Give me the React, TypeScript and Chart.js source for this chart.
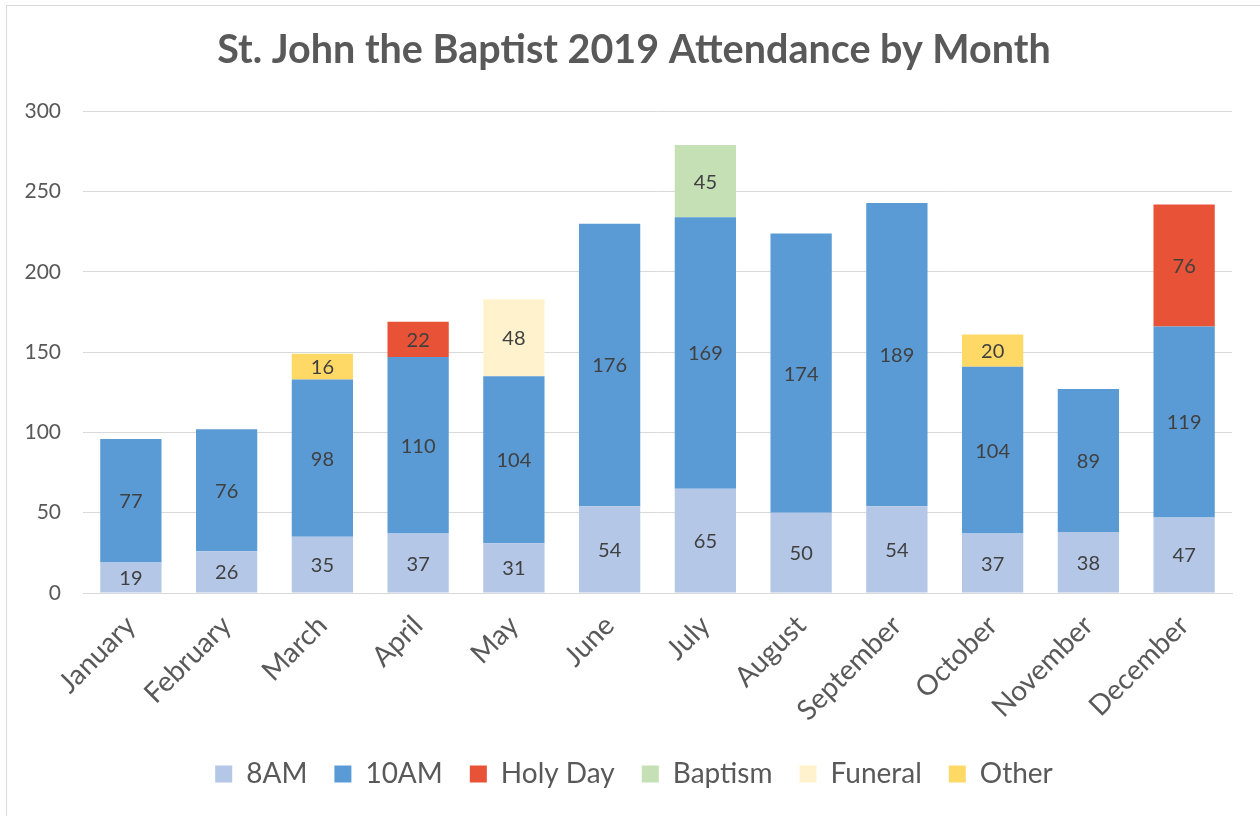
import React, { useEffect, useRef } from "react";
import { Chart, registerables } from "chart.js";

Chart.register(...registerables);

const months = ["January", "February", "March", "April", "May", "June", "July", "August", "September", "October", "November", "December"];
const am8 = [19, 26, 35, 37, 31, 54, 65, 50, 54, 37, 38, 47];
const am10 = [77, 76, 98, 110, 104, 176, 169, 174, 189, 104, 89, 119];
const holyDay = [null, null, null, 22, null, null, null, null, null, null, null, 76];
const baptism = [null, null, null, null, null, null, 45, null, null, null, null, null];
const funeral = [null, null, null, null, 48, null, null, null, null, null, null, null];
const other = [null, null, 16, null, null, null, null, null, null, 20, null, null];
const yTicks = [0, 50, 100, 150, 200, 250, 300];

const FONT = "Lato, 'Open Sans', sans-serif";

const labelPlugin = {
  id: "barLabels",
  afterDatasetsDraw(chart: any) {
    const ctx = chart.ctx;
    ctx.save();
    ctx.font = `20px ${FONT}`;
    ctx.fillStyle = "#404040";
    ctx.textAlign = "center";
    ctx.textBaseline = "middle";
    chart.data.datasets.forEach((ds: any, di: number) => {
      const meta = chart.getDatasetMeta(di);
      meta.data.forEach((el: any, i: number) => {
        const v = ds.data[i];
        if (v === null || v === undefined) return;
        const y = (el.y + el.base) / 2;
        ctx.fillText(String(v), el.x, y + 1);
      });
    });
    ctx.restore();
  },
};

export default function App() {
  const ref = useRef<HTMLCanvasElement | null>(null);
  useEffect(() => {
    if (!ref.current) return;
    const mk = (label: string, data: any[], color: string) => ({
      label,
      data,
      backgroundColor: color,
      borderWidth: 0,
      barPercentage: 0.64,
      categoryPercentage: 1,
    });
    const chart = new Chart(ref.current, {
      type: "bar",
      data: {
        labels: months,
        datasets: [
          mk("8AM", am8, "#B4C7E7"),
          mk("10AM", am10, "#5B9BD5"),
          mk("Holy Day", holyDay, "#E85236"),
          mk("Baptism", baptism, "#C5E0B4"),
          mk("Funeral", funeral, "#FFF2CC"),
          mk("Other", other, "#FFD966"),
        ],
      },
      options: {
        animation: false,
        responsive: false,
        layout: { padding: { left: 8, right: 0, top: 0, bottom: 18 } },
        plugins: {
          tooltip: { enabled: false },
          title: {
            display: true,
            text: "St. John the Baptist 2019 Attendance by Month",
            color: "#595959",
            font: { family: FONT, size: 39.5, weight: "bold" },
            padding: { top: 27, bottom: 37 },
          },
          legend: {
            position: "bottom",
            labels: {
              color: "#595959",
              font: { family: FONT, size: 28 },
              boxWidth: 17,
              boxHeight: 17,
              padding: 27,
            },
          },
        },
        scales: {
          x: {
            stacked: true,
            grid: { display: false },
            border: { color: "#D9D9D9", width: 1 },
            ticks: {
              color: "#595959",
              font: { family: FONT, size: 28 },
              minRotation: 45,
              maxRotation: 45,
              padding: 8,
            },
            afterFit: (s: any) => {
              s.height = 140;
            },
          },
          y: {
            stacked: true,
            min: 0,
            max: 300,
            afterBuildTicks: (s: any) => {
              s.ticks = yTicks.map((v) => ({ value: v }));
            },
            grid: { color: "#D9D9D9", lineWidth: 1, drawTicks: false },
            border: { display: false },
            ticks: {
              color: "#595959",
              font: { family: FONT, size: 21 },
              padding: 22,
            },
            afterFit: (s: any) => {
              s.width = 75;
            },
          },
          yRight: {
            type: "linear",
            position: "right",
            min: 0,
            max: 300,
            grid: { display: false, drawOnChartArea: false },
            border: { display: false },
            ticks: { display: false },
            afterFit: (s: any) => {
              s.width = 28;
            },
          },
        },
      },
      plugins: [labelPlugin],
    });
    return () => chart.destroy();
  }, []);
  return (
    <div style={{ position: "fixed", left: 0, top: 0, width: 1260, height: 816, background: "#fff" }}>
      <div
        style={{
          position: "absolute",
          left: 6,
          top: 5,
          width: 1270,
          height: 900,
          border: "1px solid #D9D9D9",
          boxSizing: "border-box",
        }}
      />
      <canvas ref={ref} width={1260} height={816} style={{ position: "absolute", left: 0, top: 0 }} />
    </div>
  );
}
